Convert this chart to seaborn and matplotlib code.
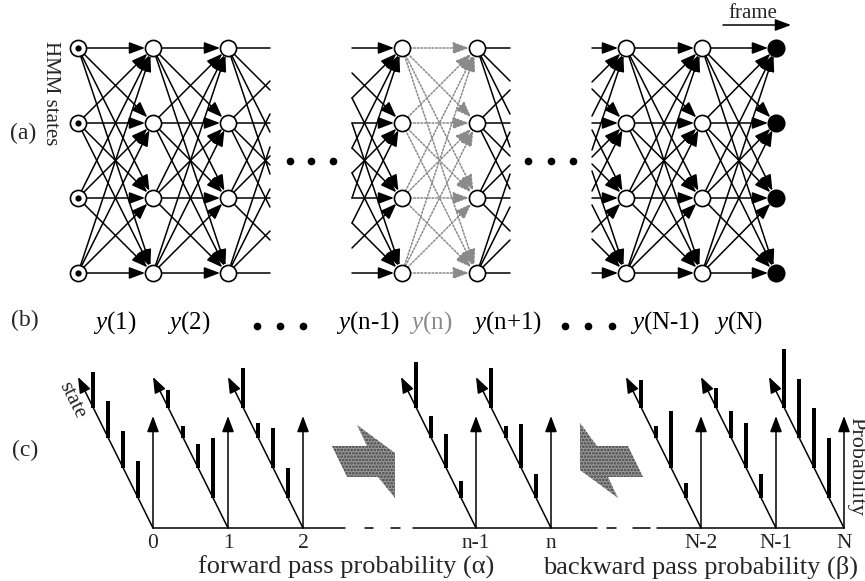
import numpy as np
import pandas as pd
import seaborn as sns
import matplotlib.pyplot as plt
from matplotlib.patches import FancyArrowPatch, Polygon

# values
n_states = 4
obs_labels = ['$y$(1)', '$y$(2)', '$y$(n-1)', '$y$(n)', '$y$(n+1)', '$y$(N-1)', '$y$(N)']
alpha_frames = ['0', '1', '2', 'n-1']
alpha_probs = [[0.37, 0.37, 0.37, 0.36],
               [0.60, 0.24, 0.12, 0.18],
               [0.30, 0.40, 0.15, 0.40],
               [0.17, 0.34, 0.22, 0.46]]
beta_frames = ['n', 'N-2', 'N-1', 'N']
beta_probs = [[0.24, 0.44, 0.12, 0.40],
              [0.15, 0.57, 0.12, 0.28],
              [0.24, 0.45, 0.27, 0.20],
              [0.60, 0.60, 0.59, 0.59]]

sns.set_theme(style='white')
plt.rcParams['font.family'] = ['Liberation Serif', 'DejaVu Serif']
plt.rcParams['mathtext.fontset'] = 'custom'
plt.rcParams['mathtext.it'] = 'Liberation Serif:italic'
plt.rcParams['mathtext.rm'] = 'Liberation Serif'
plt.rcParams['hatch.linewidth'] = 1.3

fig = plt.figure(figsize=(8.65, 5.81), dpi=100)
ax = fig.add_axes([0, 0, 1, 1])
ax.set_xlim(0, 865)
ax.set_ylim(581, 0)
ax.axis('off')

HEAD = '-|>,head_length=0.8,head_width=0.3'

# ---- (a) HMM trellis ----
rows = [48, 123, 198, 273]
cols = [78, 153, 228, 402, 477, 626, 702, 776]
step = 75
R = 8


def edge(x0, y0, x1, y1, clip_lo=None, clip_hi=None, gray=False):
    d = np.array([x1 - x0, y1 - y0], float)
    u = d / np.hypot(*d)
    a = np.array([x0, y0]) + u * R
    b = np.array([x1, y1]) - u * R
    head = HEAD
    if clip_hi is not None:   # line runs out into the gap, no head
        t = (clip_hi - x0) / (x1 - x0)
        b = np.array([clip_hi, y0 + t * (y1 - y0)])
        head = '-'
    if clip_lo is not None:   # line comes in from the gap
        t = (clip_lo - x0) / (x1 - x0)
        a = np.array([clip_lo, y0 + t * (y1 - y0)])
    col = '#8a8a8a' if gray else 'black'
    ls = (0, (1.2, 1.2)) if gray else '-'
    ax.add_patch(FancyArrowPatch(a, b, arrowstyle=head, mutation_scale=12, lw=1.1,
                                 color=col, linestyle=ls, shrinkA=0, shrinkB=0, zorder=2))


full_pairs = [(0, 1, False), (1, 2, False), (3, 4, True), (5, 6, False), (6, 7, False)]
for i, j, g in full_pairs:
    for ya in rows:
        for yb in rows:
            edge(cols[i], ya, cols[j], yb, gray=g)
# partial edges towards / from the ellipses
for ya in rows:
    for yb in rows:
        edge(cols[2], ya, cols[2] + step, yb, clip_hi=270)
        edge(cols[3] - step, ya, cols[3], yb, clip_lo=352)
        edge(cols[4], ya, cols[4] + step, yb, clip_hi=510)
        edge(cols[5] - step, ya, cols[5], yb, clip_lo=592)

nodes = pd.DataFrame([(c, r) for c in cols for r in rows], columns=['x', 'y'])
inner = nodes[nodes.x != cols[-1]]
sns.scatterplot(data=inner, x='x', y='y', s=135, color='white', edgecolor='black',
                linewidth=1.2, ax=ax, zorder=4, legend=False)
first = nodes[nodes.x == cols[0]]
sns.scatterplot(data=first, x='x', y='y', s=20, color='black', linewidth=0,
                ax=ax, zorder=5, legend=False)
last = nodes[nodes.x == cols[-1]]
sns.scatterplot(data=last, x='x', y='y', s=170, color='black', linewidth=0,
                ax=ax, zorder=5, legend=False)
ax.set_xlabel('')
ax.set_ylabel('')

for xs in ([290, 311, 333], [528, 551, 573]):
    ax.plot(xs, [161] * 3, 'o', color='black', ms=4.5)

ax.text(50, 93, 'HMM states', rotation=-90, ha='center', va='center', fontsize=15)
ax.text(23, 133, '(a)', ha='center', va='center', fontsize=17)
ax.text(753, 18, 'frame', ha='center', va='baseline', fontsize=15)
ax.add_patch(FancyArrowPatch((723, 25), (791, 25), arrowstyle=HEAD,
                             mutation_scale=12, lw=1.1, color='black', shrinkA=0, shrinkB=0))

# ---- (b) observations ----
ax.text(25, 320, '(b)', ha='center', va='center', fontsize=17)
obs_x = [115, 189, 368, 431, 507, 665, 738]
for lab, x in zip(obs_labels, obs_x):
    c = '#8a8a8a' if lab == '$y$(n)' else 'black'
    ax.text(x, 323, lab, ha='center', va='center', fontsize=18, color=c)
for xs in ([257, 280, 303], [565, 588, 612]):
    ax.plot(xs, [326] * 3, 'o', color='black', ms=4.5)

# ---- (c) forward / backward probabilities ----
base = 528
origins = [153, 228, 303, 476, 551, 701, 776, 844]
frames = alpha_frames + beta_frames
probs = alpha_probs + beta_probs
scale = 100
for ox, lab, p in zip(origins, frames, probs):
    ax.add_patch(FancyArrowPatch((ox, base), (ox, 416), arrowstyle=HEAD, mutation_scale=12,
                                 lw=1.1, color='black', shrinkA=0, shrinkB=0))
    ax.add_patch(FancyArrowPatch((ox, base), (ox - 75, 377), arrowstyle=HEAD, mutation_scale=12,
                                 lw=1.1, color='black', shrinkA=0, shrinkB=0))
    k = np.arange(1, n_states + 1)
    ax.bar(ox - 15 * k, -np.array(p) * scale, width=4.8, bottom=base - 30 * k,
           color='black', linewidth=0, zorder=3)
    ax.text(ox, 543, lab, ha='center', va='center', fontsize=15.5)

seg_kw = dict(color='black', lw=1.1)
for a, b in [(153, 345), (413, 597), (657, 844)]:
    ax.plot([a, b], [base, base], **seg_kw)
for a, b in [(365, 373), (391, 400), (607, 616), (633, 650)]:
    ax.plot([a, b], [base, base], **seg_kw)

ax.text(72, 400, 'state', rotation=-63.4, ha='center', va='center', fontsize=15)
ax.text(856, 466, 'Probability', rotation=-90, ha='center', va='center', fontsize=16)
ax.text(25, 450, '(c)', ha='center', va='center', fontsize=17)
ax.text(346, 567, 'forward pass probability (α)', ha='center', va='center', fontsize=19)
ax.text(701, 567, 'backward pass probability (β)', ha='center', va='center', fontsize=19)

fwd = [(357, 425), (395, 453), (395, 498), (378, 477), (347, 477), (332, 446), (367, 446)]
bwd = [(618, 498), (580, 470), (580, 423), (597, 446), (628, 446), (643, 477), (608, 477)]
for poly in (fwd, bwd):
    ax.add_patch(Polygon(poly, closed=True, facecolor='#9a9a9a', edgecolor='#404040',
                         hatch='.....', linewidth=0))

plt.savefig('out.png', dpi=100)
